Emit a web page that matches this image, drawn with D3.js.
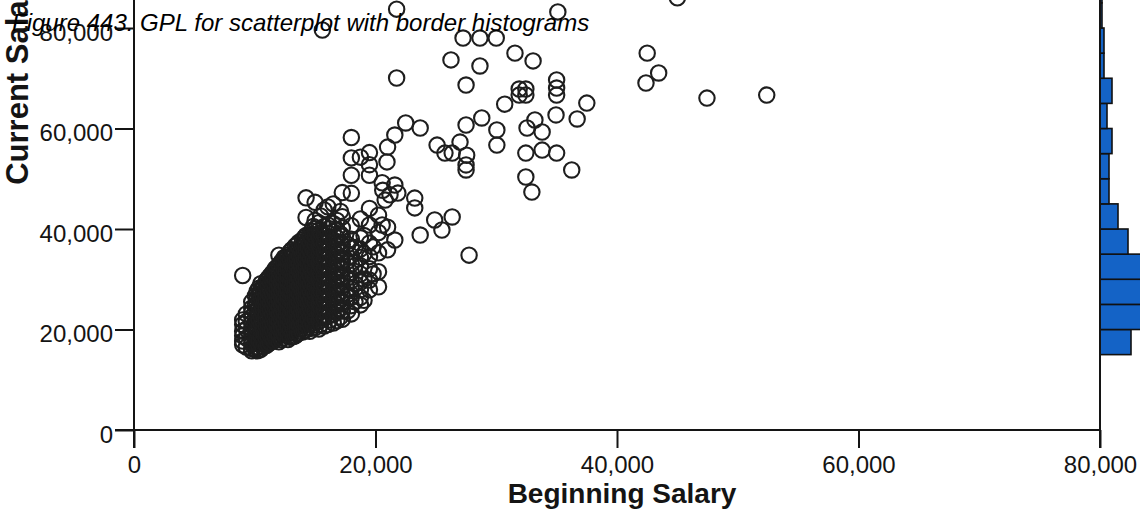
<!DOCTYPE html>
<html>
<head>
<meta charset="utf-8">
<script src="https://cdn.jsdelivr.net/npm/d3@7"></script>
<style>
  html, body { margin: 0; padding: 0; background: #ffffff; overflow: hidden; }
  svg { display: block; }
</style>
</head>
<body>
<svg id="chart" width="1140" height="514"></svg>
<script>
// Axis tick values (dollars)
const xTicks = [0, 20000, 40000, 60000, 80000];
const yTicks = [0, 20000, 40000, 60000, 80000];

// Border histogram of Current Salary: lower edge of each $5,000 bin and its count
const histLower  = [15000, 20000, 25000, 30000, 35000, 40000, 45000, 50000, 55000, 60000, 65000, 70000, 75000, 80000, 85000, 90000];
const histCounts = [31, 104, 112, 88, 28, 18, 9, 9, 12, 7, 12, 4, 4, 2, 2, 2];

// Employees: [beginning salary, current salary]
const employees = [
  // high earners
  [15600, 79600], [21750, 83750], [35100, 83200], [45000, 86000],
  [27250, 78000], [28650, 78000], [30000, 78000],
  [26250, 73650], [28650, 72450], [31550, 75000], [33050, 73450],
  [21750, 70050], [27500, 68650],
  [31900, 67850], [32450, 67850], [31900, 66650], [32450, 66650],
  [35000, 69650], [35000, 68050], [35000, 66650],
  [30700, 64850], [37500, 65050], [34950, 62700], [36700, 61900],
  [42500, 75000], [43450, 71050], [42400, 69050], [47450, 66050], [52400, 66650],
  [22500, 61100], [23700, 60100], [21600, 58700], [21000, 56300], [20950, 53350],
  [27500, 60700], [28800, 62100], [30050, 59700], [30050, 56700],
  [25100, 56700], [25750, 55100], [27000, 57300], [27550, 54700], [27500, 52750], [27500, 51750], [26350, 55100],
  [32550, 60100], [33800, 59300], [33200, 61700],
  [32450, 55100], [33800, 55700], [35000, 55100], [36250, 51750], [32450, 50350], [32950, 47350],
  [23250, 46150], [23250, 44200], [24900, 41800], [26350, 42400], [25500, 39800], [23700, 38800], [27750, 34800],
  [20600, 47700], [21200, 46800], [21600, 48750], [20800, 45750], [21850, 47150], [20550, 49200],
  [21000, 40350], [20550, 40800], [21000, 35850], [21600, 37800],
  // main body
  [9000, 16950], [9000, 17700], [9000, 18750], [9000, 19650], [9000, 21000], [9000, 21900], [9000, 30750],
  [9300, 16500], [9300, 18300], [9300, 20100], [9300, 21600], [9300, 23100],
  [9750, 15750], [9750, 16200], [9750, 17100], [9750, 18000], [9750, 19200], [9750, 20100], [9750, 21300], [9750, 22500], [9750, 23400], [9750, 24300], [9750, 25500],
  [10050, 16050], [10050, 17700], [10050, 19500], [10050, 21000], [10050, 22200], [10050, 23700], [10050, 24900], [10050, 26700],
  [10200, 15750], [10200, 16500], [10200, 17400], [10200, 18300], [10200, 19500], [10200, 20400], [10200, 21600], [10200, 22800], [10200, 24000], [10200, 25200], [10200, 26400], [10200, 27600],
  [10350, 15900], [10350, 17850], [10350, 20700], [10350, 22050], [10350, 23400], [10350, 24600], [10350, 25800], [10350, 27000], [10350, 28200],
  [10500, 16050], [10500, 17100], [10500, 18600], [10500, 19800], [10500, 21150], [10500, 22500], [10500, 23700], [10500, 25050], [10500, 26250], [10500, 27900], [10500, 29100],
  [10650, 16500], [10650, 17850], [10650, 19350], [10650, 20400], [10650, 21750], [10650, 23100], [10650, 24300], [10650, 25500], [10650, 26850], [10650, 28350],
  [10800, 17250], [10800, 18900], [10800, 22200], [10800, 25650], [10800, 27450], [10800, 28800],
  [10950, 16800], [10950, 18150], [10950, 19200], [10950, 20700], [10950, 21900], [10950, 23250], [10950, 24450], [10950, 25800], [10950, 27000], [10950, 28500], [10950, 29700],
  [11100, 17100], [11100, 18600], [11100, 19650], [11100, 21000], [11100, 22350], [11100, 23550], [11100, 24900], [11100, 26100], [11100, 27300], [11100, 28950], [11100, 30150],
  [11250, 17400], [11250, 18900], [11250, 20100], [11250, 21450], [11250, 22800], [11250, 24150], [11250, 25350], [11250, 26700], [11250, 28050], [11250, 29400], [11250, 30600],
  [11400, 18000], [11400, 19950], [11400, 21600], [11400, 23100], [11400, 24600], [11400, 25950], [11400, 27300], [11400, 28650], [11400, 29850], [11400, 31050],
  [11550, 17700], [11550, 19350], [11550, 20850], [11550, 22350], [11550, 23850], [11550, 25200], [11550, 26550], [11550, 27900], [11550, 29250], [11550, 30300], [11550, 31500],
  [11700, 18300], [11700, 19800], [11700, 21300], [11700, 22800], [11700, 24300], [11700, 25650], [11700, 27150], [11700, 28500], [11700, 29700], [11700, 31050], [11700, 32100],
  [11850, 18900], [11850, 20550], [11850, 22050], [11850, 23550], [11850, 25200], [11850, 26700], [11850, 28200], [11850, 29550], [11850, 30900], [11850, 32400],
  [12000, 17550], [12000, 18750], [12000, 20250], [12000, 21600], [12000, 23100], [12000, 24600], [12000, 25950], [12000, 27450], [12000, 28800], [12000, 30150], [12000, 31650], [12000, 32850], [12000, 34800],
  [12150, 18000], [12150, 19650], [12150, 20850], [12150, 22350], [12150, 23700], [12150, 25200], [12150, 26700], [12150, 28050], [12150, 29400], [12150, 30750], [12150, 32100], [12150, 33300],
  [12300, 18300], [12300, 19650], [12300, 21150], [12300, 22650], [12300, 24000], [12300, 25500], [12300, 27000], [12300, 28350], [12300, 29850], [12300, 31200], [12300, 32550], [12300, 33750],
  [12450, 18900], [12450, 20250], [12450, 21900], [12450, 23250], [12450, 24750], [12450, 26100], [12450, 27600], [12450, 29100], [12450, 30450], [12450, 31950], [12450, 33150], [12450, 34350],
  [12600, 19500], [12600, 21300], [12600, 22800], [12600, 24300], [12600, 25800], [12600, 27300], [12600, 28650], [12600, 30150], [12600, 31500], [12600, 33000], [12600, 34200],
  [12750, 18000], [12750, 19200], [12750, 20550], [12750, 22050], [12750, 23550], [12750, 25050], [12750, 26400], [12750, 27750], [12750, 29100], [12750, 30600], [12750, 32100], [12750, 33300], [12750, 34800],
  [12900, 18450], [12900, 19800], [12900, 21450], [12900, 22800], [12900, 24450], [12900, 25800], [12900, 27150], [12900, 28650], [12900, 30000], [12900, 31500], [12900, 32850], [12900, 34200], [12900, 35400],
  [13050, 19350], [13050, 20850], [13050, 22500], [13050, 24000], [13050, 25500], [13050, 27000], [13050, 28500], [13050, 30000], [13050, 31350], [13050, 32850], [13050, 34500], [13050, 35850],
  [13200, 18600], [13200, 20100], [13200, 21750], [13200, 23250], [13200, 24900], [13200, 26250], [13200, 27900], [13200, 29400], [13200, 30750], [13200, 32250], [13200, 33750], [13200, 35100],
  [13350, 18750], [13350, 20400], [13350, 21900], [13350, 23400], [13350, 24900], [13350, 26550], [13350, 28050], [13350, 29400], [13350, 30900], [13350, 32400], [13350, 33900], [13350, 35400], [13350, 36600],
  [13500, 19050], [13500, 20550], [13500, 22200], [13500, 23700], [13500, 25200], [13500, 26700], [13500, 28200], [13500, 29700], [13500, 31200], [13500, 32700], [13500, 34200], [13500, 35700], [13500, 36900],
  [13650, 19350], [13650, 20850], [13650, 22500], [13650, 24000], [13650, 25500], [13650, 27150], [13650, 28650], [13650, 30150], [13650, 31800], [13650, 33150], [13650, 34650], [13650, 36150], [13650, 37350],
  [13800, 20100], [13800, 21600], [13800, 23100], [13800, 24750], [13800, 26250], [13800, 27900], [13800, 29400], [13800, 30900], [13800, 32400], [13800, 33900], [13800, 35400],
  [13950, 19500], [13950, 21000], [13950, 22650], [13950, 24300], [13950, 25800], [13950, 27450], [13950, 28950], [13950, 30450], [13950, 32100], [13950, 33600], [13950, 35100], [13950, 36600], [13950, 37800],
  [14100, 19800], [14100, 21300], [14100, 22950], [14100, 24450], [14100, 26100], [14100, 27600], [14100, 29100], [14100, 30750], [14100, 32250], [14100, 33900], [14100, 35400], [14100, 36900], [14100, 38250],
  [14250, 19950], [14250, 21450], [14250, 23100], [14250, 24750], [14250, 26400], [14250, 27900], [14250, 29550], [14250, 31050], [14250, 32700], [14250, 34350], [14250, 35850], [14250, 37350], [14250, 38700], [14250, 42300], [14250, 46200],
  [14400, 20550], [14400, 22050], [14400, 23700], [14400, 25350], [14400, 27000], [14400, 28650], [14400, 30300], [14400, 31800], [14400, 33300], [14400, 34800], [14400, 36300], [14400, 37950],
  [14550, 19650], [14550, 21150], [14550, 22800], [14550, 24300], [14550, 25950], [14550, 27600], [14550, 29100], [14550, 30750], [14550, 32400], [14550, 34050], [14550, 35550], [14550, 37050], [14550, 38700],
  [14700, 20250], [14700, 21750], [14700, 23400], [14700, 25050], [14700, 26700], [14700, 28350], [14700, 30000], [14700, 31650], [14700, 33300], [14700, 34950], [14700, 36450], [14700, 38100], [14700, 39600],
  [14850, 20850], [14850, 22500], [14850, 24150], [14850, 25800], [14850, 27450], [14850, 29100], [14850, 30750], [14850, 32400], [14850, 34050], [14850, 35700], [14850, 37350], [14850, 38850], [14850, 40500],
  [15000, 20400], [15000, 22050], [15000, 23700], [15000, 25350], [15000, 27000], [15000, 28650], [15000, 30300], [15000, 31950], [15000, 33600], [15000, 35250], [15000, 36900], [15000, 38550], [15000, 40050], [15000, 41700], [15000, 45300],
  [15300, 20100], [15300, 21600], [15300, 23250], [15300, 24900], [15300, 26550], [15300, 28200], [15300, 29850], [15300, 31500], [15300, 33150], [15300, 34800], [15300, 36450], [15300, 38100], [15300, 39750], [15300, 41250],
  [15450, 21000], [15450, 22650], [15450, 24450], [15450, 26100], [15450, 27750], [15450, 29400], [15450, 31050], [15450, 32700], [15450, 34350], [15450, 36000], [15450, 37650], [15450, 39300], [15450, 42600],
  [15750, 20700], [15750, 22350], [15750, 24000], [15750, 25650], [15750, 27300], [15750, 28950], [15750, 30600], [15750, 32250], [15750, 33900], [15750, 35550], [15750, 37200], [15750, 38850], [15750, 40500], [15750, 43800],
  [16050, 21000], [16050, 22650], [16050, 24300], [16050, 25950], [16050, 27600], [16050, 29250], [16050, 30900], [16050, 32550], [16050, 34200], [16050, 35850], [16050, 37500], [16050, 39150], [16050, 40800], [16050, 44400],
  [16200, 21900], [16200, 23550], [16200, 25200], [16200, 26850], [16200, 28500], [16200, 30150], [16200, 31800], [16200, 33450], [16200, 35100], [16200, 36750], [16200, 38400], [16200, 40050],
  [16500, 21300], [16500, 22950], [16500, 24600], [16500, 26250], [16500, 27900], [16500, 29550], [16500, 31200], [16500, 32850], [16500, 34500], [16500, 36150], [16500, 37800], [16500, 39450], [16500, 41100], [16500, 45000],
  [16800, 21750], [16800, 23400], [16800, 25050], [16800, 26700], [16800, 28350], [16800, 30000], [16800, 31650], [16800, 33300], [16800, 34950], [16800, 36600], [16800, 38250], [16800, 39900], [16800, 41700],
  [17100, 22500], [17100, 24150], [17100, 25800], [17100, 27450], [17100, 29100], [17100, 30750], [17100, 32400], [17100, 34050], [17100, 35700], [17100, 37350], [17100, 39000], [17100, 43500],
  [17250, 22050], [17250, 23700], [17250, 25350], [17250, 27000], [17250, 28650], [17250, 30300], [17250, 31950], [17250, 33600], [17250, 35250], [17250, 36900], [17250, 38550], [17250, 40200], [17250, 42450], [17250, 47250],
  [17700, 23700], [17700, 27000], [17700, 30300], [17700, 33600], [17700, 36900],
  [18000, 23100], [18000, 24750], [18000, 26400], [18000, 28050], [18000, 29700], [18000, 31350], [18000, 33000], [18000, 34650], [18000, 36300], [18000, 37950], [18000, 40650], [18000, 47100], [18000, 50700], [18000, 54150], [18000, 58200],
  [18300, 25500], [18300, 29100], [18300, 32700], [18300, 36300],
  [18750, 24900], [18750, 26400], [18750, 27900], [18750, 29400], [18750, 31050], [18750, 32700], [18750, 34350], [18750, 36000], [18750, 38250], [18750, 42000], [18750, 54300],
  [19050, 25800], [19050, 30000], [19050, 35100], [19050, 38700],
  [19500, 27900], [19500, 29850], [19500, 32100], [19500, 34500], [19500, 37200], [19500, 40800], [19500, 44100], [19500, 50700], [19500, 52800], [19500, 55200],
  [19800, 31050], [19800, 36450],
  [20250, 28500], [20250, 31500], [20250, 35250], [20250, 39300], [20250, 42750]
];

const svg = d3.select("#chart");
const FONT = "'Liberation Sans', Arial, Helvetica, sans-serif";
const INK = "#141414";

const x = d3.scaleLinear().domain([0, 80000]).range([134, 1100]);
const y = d3.scaleLinear().domain([0, 80000]).range([430, 28]);
const hx = d3.scaleLinear().domain([0, 100]).range([1100, 1200]);

// Border histogram along the right edge
svg.append("g")
  .selectAll("rect")
  .data(histLower.map((lo, i) => ({ lo, n: histCounts[i] })))
  .join("rect")
  .attr("x", hx(0))
  .attr("y", d => y(d.lo + 5000))
  .attr("width", d => hx(d.n) - hx(0))
  .attr("height", d => y(d.lo) - y(d.lo + 5000))
  .attr("fill", "#1463c6")
  .attr("stroke", "#111")
  .attr("stroke-width", 1.6);

// Scatter points
svg.append("g")
  .selectAll("circle")
  .data(employees)
  .join("circle")
  .attr("cx", d => x(d[0]))
  .attr("cy", d => y(d[1]))
  .attr("r", 7.7)
  .attr("fill", "none")
  .attr("stroke", "#1e1e1e")
  .attr("stroke-width", 2.1);

// Axes
const fmt = d3.format(",");
const yAxis = d3.axisLeft(y).tickValues(yTicks).tickFormat(fmt).tickSize(19).tickSizeOuter(0).tickPadding(2);
const xAxis = d3.axisBottom(x).tickValues(xTicks).tickFormat(fmt).tickSize(18).tickSizeOuter(0).tickPadding(8);

const gy = svg.append("g").attr("transform", `translate(${x(0)},0)`).call(yAxis);
const gx = svg.append("g").attr("transform", `translate(0,${y(0)})`).call(xAxis);

[gx, gy].forEach(g => {
  g.select(".domain").remove();
  g.selectAll(".tick line").attr("stroke", INK).attr("stroke-width", 2);
  g.selectAll(".tick text")
    .attr("fill", INK)
    .style("font-family", FONT)
    .style("font-size", "24px");
});
gy.selectAll(".tick text").attr("dy", "0.52em");

// Axis lines (y axis and histogram baseline run past the top of the view)
const axisLines = [
  [x(0), y(0) + 18, x(0), -20],
  [x(80000), y(0) + 18, x(80000), -20],
  [x(0) - 19, y(0), x(80000), y(0)]
];
svg.append("g")
  .selectAll("line")
  .data(axisLines)
  .join("line")
  .attr("x1", d => d[0]).attr("y1", d => d[1])
  .attr("x2", d => d[2]).attr("y2", d => d[3])
  .attr("stroke", INK)
  .attr("stroke-width", 2);

// Axis titles
svg.append("text")
  .attr("x", 622)
  .attr("y", 503)
  .attr("text-anchor", "middle")
  .style("font-family", FONT)
  .style("font-size", "28px")
  .style("font-weight", "bold")
  .attr("fill", INK)
  .text("Beginning Salary");

svg.append("text")
  .attr("transform", "translate(28,78) rotate(-90)")
  .attr("text-anchor", "middle")
  .style("font-family", FONT)
  .style("font-size", "31px")
  .style("font-weight", "bold")
  .attr("fill", INK)
  .text("Current Salary");

// Figure caption
svg.append("text")
  .attr("x", 12)
  .attr("y", 31)
  .style("font-family", FONT)
  .style("font-size", "24px")
  .style("font-style", "italic")
  .attr("fill", "#000")
  .text("Figure 443. GPL for scatterplot with border histograms");
</script>
</body>
</html>
